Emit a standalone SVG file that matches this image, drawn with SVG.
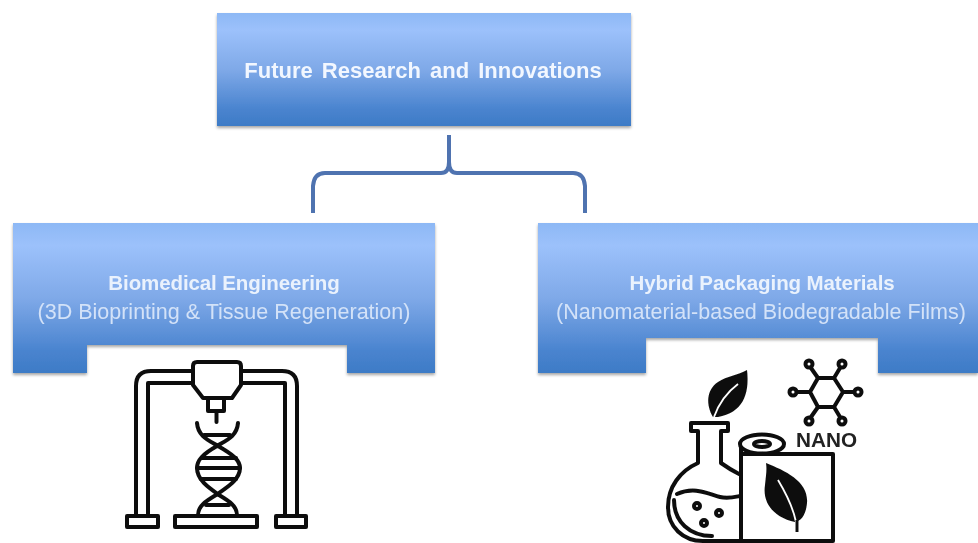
<svg xmlns="http://www.w3.org/2000/svg" width="978" height="543" viewBox="0 0 978 543">
<defs>
<linearGradient id="g" x1="0" y1="0" x2="0" y2="1"><stop offset="0" stop-color="#8db8f5"/><stop offset="0.15" stop-color="#9cc1fb"/><stop offset="0.5" stop-color="#7fa9e8"/><stop offset="0.85" stop-color="#4a84cf"/><stop offset="1" stop-color="#3d7bc6"/></linearGradient>
<filter id="s" x="-5%" y="-5%" width="110%" height="112%"><feDropShadow dx="0" dy="2" stdDeviation="1.5" flood-color="#000" flood-opacity="0.35"/></filter>
<filter id="b" x="-5%" y="-5%" width="110%" height="110%"><feGaussianBlur stdDeviation="0.55"/></filter>
</defs>
<style>
text{font-family:"Liberation Sans",Arial,sans-serif;text-anchor:middle}
.t{fill:#f2f7ff;font-weight:bold;font-size:22px;word-spacing:3px}
.h{fill:#eaf2fd;font-weight:bold;font-size:20.5px;letter-spacing:-0.1px}
.p{fill:#d3e2f8;font-size:21.5px}
.i{fill:none;stroke:#111;stroke-width:4;stroke-linejoin:round;stroke-linecap:round}
.k{fill:#111;stroke:none}
</style>
<g id="connectors"><path d="M449 135V162Q449 173 441 173H325Q314 173 313 186V213M449 135V162Q449 173 457 173H573Q584 173 585 186V213" fill="none" stroke="#4f73b0" stroke-width="4"/></g>
<g id="top"><rect x="217" y="13" width="414" height="113" fill="url(#g)" filter="url(#s)"/><text class="t" x="423" y="78" filter="url(#b)">Future Research and Innovations</text></g>
<g id="bio">
<path d="M13 223H435V373H347V345H87V373H13Z" fill="url(#g)" filter="url(#s)"/>
<text class="h" x="224" y="290" filter="url(#b)">Biomedical Engineering</text>
<text class="p" x="224" y="319" filter="url(#b)">(3D Bioprinting &amp; Tissue Regeneration)</text>
</g>
<g id="hybrid">
<path d="M538 223H978V373H878V338H646V373H538Z" fill="url(#g)" filter="url(#s)"/>
<text class="h" x="762" y="290" filter="url(#b)">Hybrid Packaging Materials</text>
<text class="p" x="761" y="319" filter="url(#b)">(Nanomaterial-based Biodegradable Films)</text>
</g>
<g id="printer" filter="url(#b)">
<path class="i" d="M136 515V386Q136 371 151 371H193M148 515V383H193M297 515V386Q297 371 282 371H241M285 515V383H241"/>
<path class="i" d="M197 362H237Q241 362 241 366V385L232 398H203L193 385V366Q193 362 197 362ZM208 399V411H224V399M216.500 412V422"/>
<rect class="i" x="127" y="516" width="31" height="11"/><rect class="i" x="175" y="516" width="82" height="11"/><rect class="i" x="276" y="516" width="30" height="11"/>
<path class="i" d="M197 423C198 436 208 440 218 446C232 454 240 460 240 468C240 480 226 488 216 495C206 501 198 506 198 515M238 423C237 436 227 440 217 446C203 454 197 460 197 468C197 480 209 488 219 495C229 501 237 506 237 515"/>
<path class="i" d="M204 435H230M202 458H236M197 468H240M201 479H236M206 505H229"/>
</g>
<g id="materials" filter="url(#b)">
<path class="i" d="M691 423H728V431H721V463C728 468 733 471 739 474M691 423V431H698V463C680 471 668 487 668 507C668 527 683 541 703 541H741M677 494C695 486 708 494 720 497C728 499 735 497 740 496M674 500C674 522 690 536 712 536"/>
<circle class="i" cx="697" cy="506" r="3"/><circle class="i" cx="719" cy="513" r="3"/><circle class="i" cx="704" cy="523" r="3"/>
<path class="k" d="M747 370C750 395 742 413 718 417L713 417C706 405 706 390 718 382C727 376 738 375 747 370Z"/>
<path d="M714 417C720 400 730 390 738 384" fill="none" stroke="#fff" stroke-width="1.8"/>
<path class="i" d="M741 447V541H833V454H741"/>
<ellipse cx="762" cy="444" rx="22" ry="9.500" fill="#fff" stroke="#111" stroke-width="4"/><ellipse class="i" cx="762" cy="444" rx="8" ry="3"/>
<path class="k" d="M766 463C786 471 809 482 807 503C806 515 801 521 795 522C776 518 762 505 765 485C766 475 767 470 766 463Z"/>
<path d="M778 480C787 495 793 507 796 522" fill="none" stroke="#fff" stroke-width="1.8"/>
<path d="M797 520V532" stroke="#111" stroke-width="3"/>
<path class="i" d="M818 378H834L843 392L834 407H818L810 392Z"/>
<path class="i" d="M818 378L811 368M834 378L840 368M843 392H854M834 407L840 417M818 407L811 417M810 392H797"/>
<circle class="i" cx="809" cy="364" r="3.500"/><circle class="i" cx="842" cy="364" r="3.500"/><circle class="i" cx="858" cy="392" r="3.500"/><circle class="i" cx="842" cy="421" r="3.500"/><circle class="i" cx="809" cy="421" r="3.500"/><circle class="i" cx="793" cy="392" r="3.500"/>
<text x="826.500" y="447" font-size="20" font-weight="bold" fill="#222" textLength="61" lengthAdjust="spacingAndGlyphs">NANO</text>
</g>
</svg>
